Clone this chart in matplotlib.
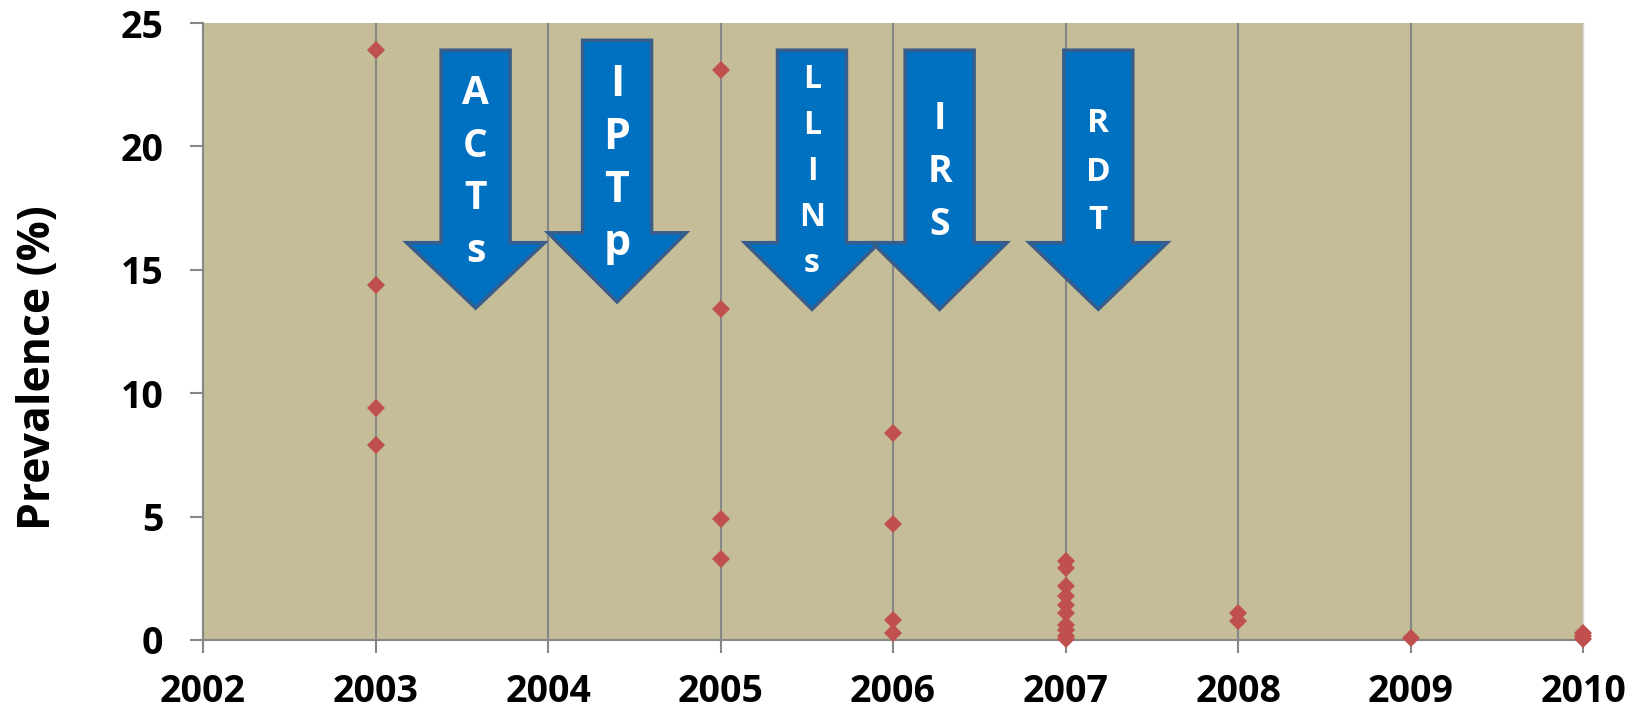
import matplotlib
matplotlib.use("Agg")
import matplotlib.pyplot as plt
from matplotlib.patches import Polygon

# Survey years and measured prevalence (%) at each year
years_2003 = [2003] * 4
prev_2003 = [23.9, 14.4, 9.4, 7.9]
years_2005 = [2005] * 4
prev_2005 = [23.1, 13.4, 4.9, 3.3]
years_2006 = [2006] * 4
prev_2006 = [8.4, 4.7, 0.8, 0.3]
years_2007 = [2007] * 10
prev_2007 = [3.2, 2.9, 2.2, 1.8, 1.4, 1.1, 0.6, 0.4, 0.15, 0.05]
years_2008 = [2008] * 2
prev_2008 = [1.1, 0.75]
years_2009 = [2009]
prev_2009 = [0.08]
years_2010 = [2010] * 3
prev_2010 = [0.3, 0.15, 0.05]

# Interventions introduced over the period
interventions = ["ACTs", "IPTp", "LLINs", "IRS", "RDT"]

year_ticks = list(range(2002, 2011))
prev_ticks = [0, 5, 10, 15, 20, 25]

BG = "#C4BD97"
GRID = "#878787"
MARK = "#C0504D"
ARROW_FACE = "#0070C0"
ARROW_EDGE = "#385D8A"

fig = plt.figure(figsize=(16.43, 7.13), dpi=100)
ax = fig.add_axes([0.1236, 0.1024, 0.8399, 0.8653])
ax.set_facecolor(BG)

ax.set_xlim(2002, 2010)
ax.set_ylim(0, 25)
ax.set_xticks(year_ticks)
ax.set_yticks(prev_ticks)
ax.set_xticklabels([str(y) for y in year_ticks])
ax.set_yticklabels([str(v) for v in prev_ticks])

for y in year_ticks[1:-1]:
    ax.axvline(y, color=GRID, lw=1.5, zorder=1)

for s in ["top", "right"]:
    ax.spines[s].set_visible(False)
for s in ["left", "bottom"]:
    ax.spines[s].set_color(GRID)
    ax.spines[s].set_linewidth(1.5)
ax.plot([2010, 2010], [0, 25], color="#d9d9d9", lw=1.0, zorder=1, clip_on=False)

ax.tick_params(axis="both", length=9.5, width=1.5, color=GRID, labelsize=27)
ax.tick_params(axis="y", pad=19)
ax.tick_params(axis="x", pad=14)
for lab in ax.get_xticklabels() + ax.get_yticklabels():
    lab.set_fontweight("bold")
    lab.set_family("Open Sans")

ax.set_ylabel("Prevalence (%)", fontsize=32, fontweight="bold",
              family="Open Sans")
ax.yaxis.set_label_coords(-0.103, 0.442)

series = [(years_2003, prev_2003), (years_2005, prev_2005),
          (years_2006, prev_2006), (years_2007, prev_2007),
          (years_2008, prev_2008), (years_2009, prev_2009),
          (years_2010, prev_2010)]
for xs, ys in series:
    ax.plot(xs, ys, linestyle="none", marker="D", markersize=9,
            color=MARK, markeredgewidth=0, zorder=3, clip_on=False)

# Block arrows: (centre x, shaft half-width, head half-width, top, head base, tip,
#                font size, line spacing, text centre y)
arrow_geom = [
    (2003.58, 0.20, 0.40, 23.9, 16.1, 13.45, 28, 1.45, 18.95),
    (2004.40, 0.20, 0.40, 24.3, 16.5, 13.7, 31, 1.30, 19.3),
    (2005.53, 0.20, 0.39, 23.9, 16.1, 13.4, 23, 1.52, 19.0),
    (2006.27, 0.20, 0.39, 23.9, 16.1, 13.4, 27, 1.52, 18.95),
    (2007.19, 0.20, 0.40, 23.9, 16.1, 13.4, 24, 1.62, 18.95),
]
for name, (cx, sw, hw, top, base, tip, fs, ls, ty) in zip(interventions, arrow_geom):
    verts = [(cx - sw, top), (cx + sw, top), (cx + sw, base), (cx + hw, base),
             (cx, tip), (cx - hw, base), (cx - sw, base)]
    ax.add_patch(Polygon(verts, closed=True, facecolor=ARROW_FACE,
                         edgecolor=ARROW_EDGE, linewidth=2.5, zorder=4,
                         joinstyle="miter"))
    ax.text(cx, ty, "\n".join(name), ha="center", va="center",
            color="white", fontsize=fs, fontweight="bold", family="Open Sans",
            linespacing=ls, zorder=5)

fig.savefig("out.png", dpi=100)
